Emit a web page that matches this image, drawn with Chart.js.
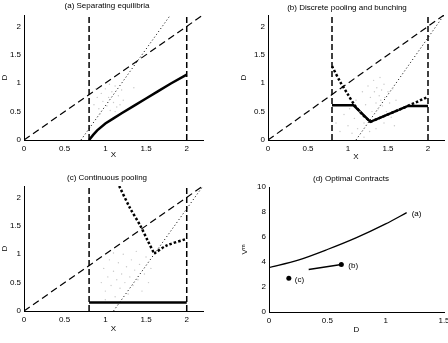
<!DOCTYPE html>
<html>
<head>
<meta charset="utf-8">
<script src="https://cdn.jsdelivr.net/npm/chart.js@4.4.0/dist/chart.umd.min.js"></script>
<style>
html, body { margin: 0; padding: 0; background: #fff; width: 448px; height: 343px; overflow: hidden; }
.p { position: absolute; }
</style>
</head>
<body>
<div class="p" style="left:0;top:0"><canvas id="ca" width="224" height="172"></canvas></div>
<div class="p" style="left:224px;top:0"><canvas id="cb" width="224" height="172"></canvas></div>
<div class="p" style="left:0;top:172px"><canvas id="cc" width="224" height="171"></canvas></div>
<div class="p" style="left:224px;top:172px"><canvas id="cd" width="232" height="171"></canvas></div>
<script>
// tick labels
const xTicks = [0, 0.5, 1, 1.5, 2]
const yTicks = [0, 0.5, 1, 1.5, 2]
const dTicks = [0, 0.5, 1, 1.5]
const vTicks = [0, 2, 4, 6, 8, 10]

// shared lines for panels a-c
const diagX = [0, 2.2]
const diagY = [0, 2.2]
const boundX = [0.8, 2]

// (a) separating equilibria
const aDotX = [0.7, 1.8]
const aDotY = [0, 2.2]
const aSolidX = [0.8, 0.85, 0.9, 1.0, 1.1, 1.2, 1.35, 1.5, 1.65, 1.8, 2.0]
const aSolidY = [0, 0.09, 0.17, 0.29, 0.38, 0.47, 0.6, 0.73, 0.86, 0.99, 1.15]
const aCloud = [[0.86,0.62],[0.9,0.75],[0.92,0.55],[0.95,0.82],[0.97,0.68],[1.0,0.9],[1.02,0.6],[1.04,0.75],
    [1.06,0.52],[1.08,0.85],[1.1,0.66],[1.12,0.95],[1.14,0.58],[1.16,0.78],[1.18,0.62],[1.2,0.88],
    [0.94,0.46],[1.05,0.98],[1.22,0.7],[0.88,0.9],[1.35,0.92],[1.12,0.5]]

// (b) discrete pooling and bunching
const bDotX = [1.1, 2.2]
const bDotY = [0, 2.2]
const bFallX = [0.8, 0.9, 1.0, 1.08, 1.18, 1.28]
const bFallY = [1.3, 1.03, 0.8, 0.62, 0.45, 0.32]
const bRiseX = [1.28, 1.75, 2.0]
const bRiseY = [0.32, 0.6, 0.76]
const bSolidX = [0.8, 1.07, 1.28, 1.75, 2.0]
const bSolidY = [0.61, 0.61, 0.32, 0.6, 0.6]
const bCloud = [[0.85,0.3],[0.9,0.15],[0.95,0.45],[1.0,0.25],[1.02,0.55],[1.05,0.12],[1.08,0.38],[1.1,0.7],
    [1.12,0.2],[1.15,0.5],[1.18,0.85],[1.2,0.3],[1.22,0.62],[1.25,0.95],[1.27,0.15],[1.28,0.75],[1.3,0.5],
    [1.32,1.05],[1.33,0.85],[1.35,0.65],[1.36,0.92],[1.38,0.55],[1.39,0.78],[1.4,1.1],[1.41,0.7],[1.42,0.88],
    [1.43,0.6],[1.45,0.98],[1.46,0.75],[1.48,0.5],[1.5,0.85],[1.52,0.65],[1.54,0.4],[1.56,0.9],[1.58,0.25],
    [1.6,0.7],[1.63,0.55],[1.45,0.3],[1.35,0.2],[1.2,0.05]]

// (c) continuous pooling
const cDotX = [1.1, 2.2]
const cDotY = [0, 2.2]
const cFallX = [1.17, 1.3, 1.43, 1.52, 1.6]
const cFallY = [2.2, 1.82, 1.5, 1.24, 1.01]
const cRiseX = [1.6, 1.75, 2.0]
const cRiseY = [1.01, 1.15, 1.27]
const cSolidX = [0.8, 2.0]
const cSolidY = [0.15, 0.15]
const cCloud = [[0.95,0.5],[0.98,0.75],[1.0,0.35],[1.03,0.6],[1.05,0.9],[1.07,0.45],[1.1,0.7],[1.12,0.25],
    [1.14,0.55],[1.16,0.85],[1.18,0.4],[1.2,0.65],[1.22,1.0],[1.24,0.5],[1.26,0.78],[1.28,0.3],[1.3,0.6],
    [1.32,0.9],[1.34,0.45],[1.36,0.72],[1.38,1.05],[1.4,0.55],[1.42,0.82],[1.45,0.35],[1.48,0.65],[1.5,0.95],
    [1.53,0.5],[1.56,0.75],[1.1,1.02],[1.0,0.2]]

// (d) optimal contracts
const dAX = [0, 0.25, 0.5, 0.75, 1.0, 1.18]
const dAY = [3.55, 4.15, 5.0, 5.95, 7.05, 7.95]
const dBX = [0.34, 0.62]
const dBY = [3.4, 3.8]
const dCX = [0.17]
const dCY = [2.7]

const FONT = {family: '"Liberation Sans", Arial, sans-serif', size: 8}

function pts(xs, ys) { return xs.map((x, i) => ({x: x, y: ys[i]})) }
function cloud(arr) { return arr.map(p => ({x: p[0], y: p[1]})) }
function vline(x, top) { return [{x: x, y: 0}, {x: x, y: top}] }

function line(data, style) {
    return Object.assign({data: data, showLine: true, pointRadius: 0, borderColor: '#000',
        backgroundColor: '#000', fill: false, tension: 0}, style)
}
const DASH = {borderWidth: 1.2, borderDash: [7, 4]}
const VDASH = {borderWidth: 1.5, borderDash: [6, 3]}
const THIN_DOT = {borderWidth: 1, borderDash: [1, 2.5]}
const THICK_DOT = {borderWidth: 2.5, borderDash: [2.5, 2]}
const SOLID = {borderWidth: 2.5}
const CURVE = {tension: 0.3}

function dots(arr) {
    return {data: cloud(arr), pointRadius: 0.7, borderWidth: 0, backgroundColor: '#c8c8c8', showLine: false}
}

const titlePlugin = {
    id: 'ptitle',
    afterDraw(chart, args, opts) {
        const ctx = chart.ctx
        ctx.save()
        ctx.font = '8px "Liberation Sans", Arial, sans-serif'
        ctx.fillStyle = '#000'
        ctx.textAlign = 'center'
        ctx.textBaseline = 'middle'
        ctx.fillText(opts.text, opts.x, opts.y)
        ;(opts.notes || []).forEach(n => {
            const ds = chart.data.datasets[n.ds]
            const p = ds.data[ds.data.length - 1]
            ctx.textAlign = 'left'
            ctx.fillText(n.text, chart.scales.x.getPixelForValue(p.x) + n.dx,
                chart.scales.y.getPixelForValue(p.y) + n.dy)
        })
        ctx.restore()
    }
}

function scale(ticks, max, size, title, titlePad, horizontal) {
    return {
        type: 'linear', min: 0, max: max,
        afterBuildTicks: s => { s.ticks = ticks.map(v => ({value: v})) },
        afterFit: s => { if (horizontal) s.height = size; else s.width = size },
        grid: {display: false, drawTicks: false},
        border: {display: true, color: '#000', width: 1},
        ticks: {color: '#000', font: FONT, padding: horizontal ? 4 : 3, maxRotation: 0, autoSkip: false,
            callback: v => String(v)},
        title: {display: true, text: title, color: '#000', font: FONT,
            padding: horizontal ? {top: 0, bottom: titlePad} : {top: titlePad, bottom: 0}}
    }
}

function makePanel(id, g, datasets, xt, yt, xmax, ymax) {
    new Chart(document.getElementById(id), {
        type: 'scatter',
        data: {datasets: datasets},
        options: {
            responsive: false,
            animation: false,
            layout: {padding: {left: 0, top: g.top, right: g.right, bottom: 0}},
            scales: {
                x: scale(xt, xmax, g.xh, g.xTitle, g.xPad, true),
                y: scale(yt, ymax, g.yw, g.yTitle, g.yPad, false)
            },
            plugins: {
                legend: {display: false},
                tooltip: {enabled: false},
                ptitle: {text: g.title, x: g.tx, y: g.ty, notes: g.notes}
            }
        },
        plugins: [titlePlugin]
    })
}

function frame(extra) {
    return [
        line(pts(diagX, diagY), DASH),
        line(vline(boundX[0], 2.2), VDASH),
        line(vline(boundX[1], 2.2), VDASH)
    ].concat(extra)
}

makePanel('ca', {top: 15, right: 21, xh: 32, yw: 24, xTitle: 'X', xPad: 12, yTitle: 'D', yPad: 0,
        title: '(a) Separating equilibria', tx: 107, ty: 6},
    [dots(aCloud)].concat(frame([
        line(pts(aDotX, aDotY), THIN_DOT),
        line(pts(aSolidX, aSolidY), SOLID)
    ])), xTicks, yTicks, 2.2, 2.2)

makePanel('cb', {top: 15, right: 4, xh: 32, yw: 44, xTitle: 'X', xPad: 10, yTitle: 'D', yPad: 15,
        title: '(b) Discrete pooling and bunching', tx: 123, ty: 8},
    [dots(bCloud)].concat(frame([
        line(pts(bDotX, bDotY), THIN_DOT),
        line(pts(bFallX, bFallY), Object.assign({}, THICK_DOT, CURVE)),
        line(pts(bRiseX, bRiseY), THICK_DOT),
        line(pts(bSolidX, bSolidY), SOLID)
    ])), xTicks, yTicks, 2.2, 2.2)

makePanel('cc', {top: 14, right: 21, xh: 32, yw: 24, xTitle: 'X', xPad: 9, yTitle: 'D', yPad: 0,
        title: '(c) Continuous pooling', tx: 107, ty: 6},
    [dots(cCloud)].concat(frame([
        line(pts(cDotX, cDotY), THIN_DOT),
        line(pts(cFallX, cFallY), Object.assign({}, THICK_DOT, CURVE)),
        line(pts(cRiseX, cRiseY), Object.assign({}, THICK_DOT, CURVE)),
        line(pts(cSolidX, cSolidY), SOLID)
    ])), xTicks, yTicks, 2.2, 2.2)

makePanel('cd', {top: 15, right: 12, xh: 31, yw: 45, xTitle: 'D', xPad: 8, yTitle: 'V\u1D50', yPad: 16,
        title: '(d) Optimal Contracts', tx: 127, ty: 7,
        notes: [{ds: 0, text: '(a)', dx: 5, dy: 1}, {ds: 1, text: '(b)', dx: 7, dy: 1.5}, {ds: 2, text: '(c)', dx: 6, dy: 2}]},
    [
        line(pts(dAX, dAY), Object.assign({borderWidth: 1.3}, CURVE)),
        line(pts(dBX, dBY), {borderWidth: 1.3, pointRadius: [0, 2.5], pointBorderWidth: 0}),
        {data: pts(dCX, dCY), pointRadius: 2.5, borderWidth: 0, backgroundColor: '#000'}
    ], dTicks, vTicks, 1.5, 10)
</script>
</body>
</html>
